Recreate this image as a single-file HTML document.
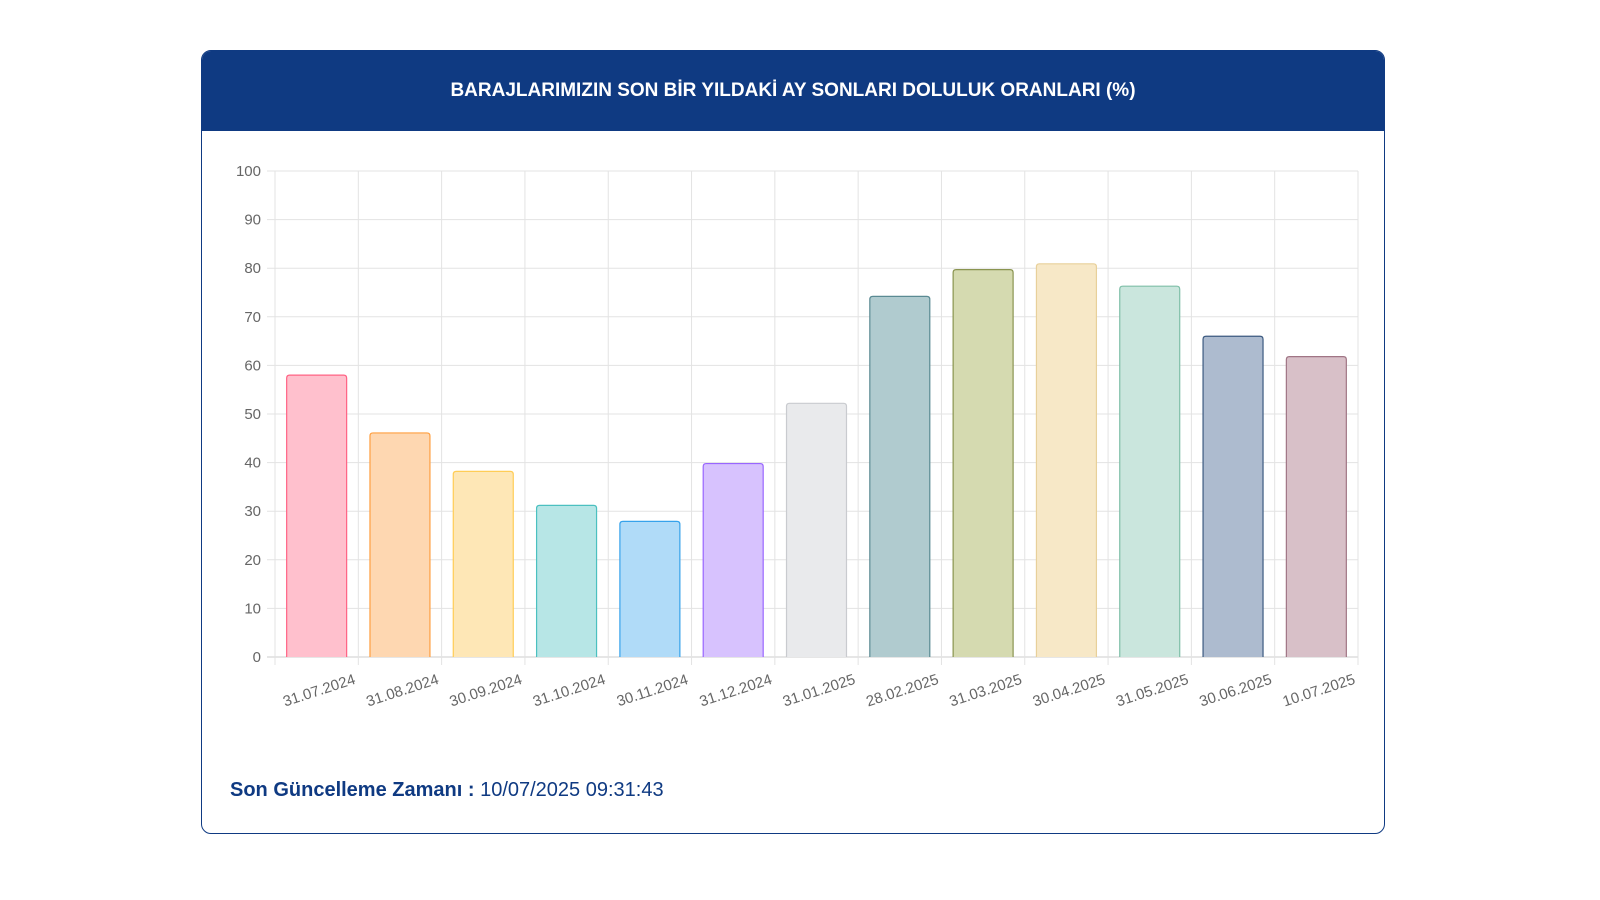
<!DOCTYPE html>
<html><head><meta charset="utf-8"><style>
body{margin:0;width:1600px;height:900px;background:#fff;font-family:"Liberation Sans",sans-serif;overflow:hidden}
#card{position:absolute;left:201px;top:50px;width:1182px;height:782px;border:1.5px solid #0f3a82;border-radius:10px;overflow:hidden}
#hdr{position:absolute;left:0;top:0;width:100%;height:80px;background:#0f3a82;color:#fff;font-weight:bold;font-size:19px;text-align:center;line-height:80px}
#foot{position:absolute;left:28px;top:728px;font-size:20px;color:#0f3a82}
</style></head><body>
<div id="card">
<div id="hdr">BARAJLARIMIZIN SON BİR YILDAKİ AY SONLARI DOLULUK ORANLARI (%)</div>
<div id="foot"><b>Son Güncelleme Zamanı :</b> 10/07/2025 09:31:43</div>
</div>
<svg id="chart" width="1600" height="900" style="position:absolute;left:0;top:0"></svg>
<script>
const categories=["31.07.2024","31.08.2024","30.09.2024","31.10.2024","30.11.2024","31.12.2024","31.01.2025","28.02.2025","31.03.2025","30.04.2025","31.05.2025","30.06.2025","10.07.2025"];
const values=[58,46.1,38.2,31.2,27.9,39.8,52.2,74.2,79.7,80.9,76.3,66,61.8];
const yTicks=[0,10,20,30,40,50,60,70,80,90,100];
const fills=["#ffc0cd","#fed7b1","#fee7b6","#b7e6e6","#b0dbf8","#d7c2fe","#e9eaec","#b0cbcf","#d5dab0","#f7e8c7","#cae6dd","#adbbcf","#d8c0c8"];
const strokes=["#ff6384","#ff9f40","#ffcd56","#4bc0c0","#36a2eb","#9966ff","#c9cbcf","#5a8a93","#8a9450","#e8d09a","#7fbfa8","#3c5a80","#a07585"];
const svg=document.getElementById('chart');const NS='http://www.w3.org/2000/svg';
const L=275,R=1358,T=171,B=657;
const cw=(R-L)/categories.length;
const y=v=>B-(v/100)*(B-T);
const x=i=>L+i*cw;
function mk(t,a){const e=document.createElementNS(NS,t);for(const k in a)e.setAttribute(k,a[k]);svg.appendChild(e);return e;}
yTicks.forEach(t=>{
 const g=mk('line',{x1:L-8,x2:R,y1:y(t),y2:y(t),stroke:t===0?'#ccc':'#e3e3e3','stroke-width':1});
 
 
 const tx=mk('text',{x:L-14,y:y(t)+5,'text-anchor':'end','font-size':15,fill:'#666','font-family':'Liberation Sans'});
 tx.textContent=t;
 
 
});
for(let i=0;i<=categories.length;i++){
 const g=mk('line',{x1:x(i),x2:x(i),y1:T,y2:B+8,stroke:'#e3e3e3','stroke-width':1});
 
 
}
categories.forEach((c,i)=>{
 const bw=cw*0.72,bx=x(i)+(cw-bw)/2,top=y(values[i]);
 const p=mk('path',{d:`M${bx},${B} V${top+3} Q${bx},${top} ${bx+3},${top} H${bx+bw-3} Q${bx+bw},${top} ${bx+bw},${top+3} V${B}`,fill:fills[i],stroke:strokes[i],'stroke-width':1.2});
 
 
 const cx=x(i)+cw/2+4,cy=B+38;
 const tx=mk('text',{x:cx,y:cy,'text-anchor':'middle','font-size':15,fill:'#666','font-family':'Liberation Sans',transform:`rotate(-18 ${cx} ${cy})`});
 tx.textContent=c;
 
 
});
</script>
</body></html>
